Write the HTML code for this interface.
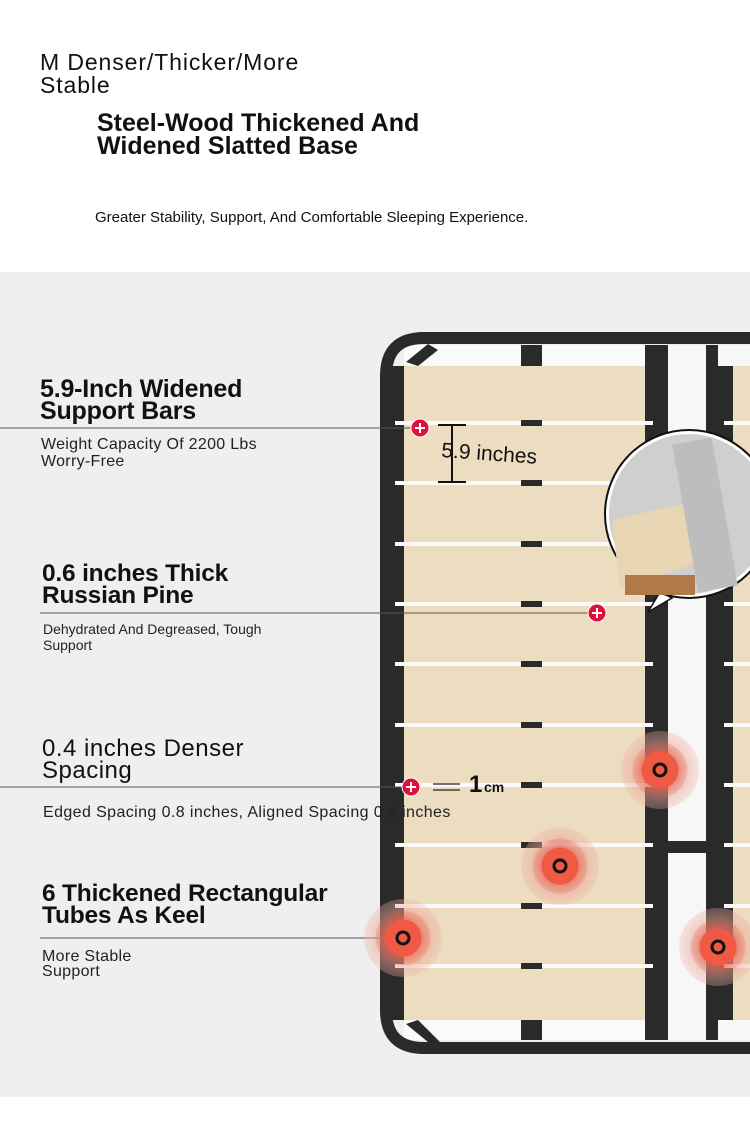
<!DOCTYPE html>
<html><head><meta charset="utf-8"><style>
*{margin:0;padding:0;box-sizing:border-box}
body{width:750px;height:1128px;position:relative;background:#fff;font-family:"Liberation Sans",sans-serif;color:#111;overflow:hidden}
.a{position:absolute;white-space:nowrap}
.h{font-weight:bold;font-size:24.5px;line-height:22px;letter-spacing:-0.2px}
.s{font-size:16px;line-height:17px;color:#222;letter-spacing:0.3px}
</style></head><body>
<div class="a" style="left:40px;top:51px;font-size:23px;line-height:23px;letter-spacing:0.9px">M Denser/Thicker/More<br>Stable</div>
<div class="a" style="left:97px;top:112px;font-size:25px;line-height:23px;font-weight:bold">Steel-Wood Thickened And<br>Widened Slatted Base</div>
<div class="a" style="left:95px;top:209px;font-size:15px">Greater Stability, Support, And Comfortable Sleeping Experience.</div>
<div style="position:absolute;left:0;top:272px;width:750px;height:825px;background:#efefef"></div>
<svg style="position:absolute;left:0;top:0" width="750" height="1128">
<defs><radialGradient id="t"><stop offset="0.3" stop-color="#f05a45"/><stop offset="0.47" stop-color="#f05a45"/><stop offset="0.48" stop-color="#e8705f" stop-opacity="0.8"/><stop offset="0.7" stop-color="#e88878" stop-opacity="0.6"/><stop offset="0.71" stop-color="#eda597" stop-opacity="0.5"/><stop offset="1" stop-color="#f0b0a5" stop-opacity="0.3"/></radialGradient></defs>
<rect x="404" y="345" width="241" height="21" fill="#fafafa"/>
<rect x="404" y="1020" width="241" height="20" fill="#fafafa"/>
<rect x="521" y="345" width="21" height="21" fill="#2a2a2a"/>
<rect x="521" y="1020" width="21" height="20" fill="#2a2a2a"/>
<rect x="404" y="366" width="241" height="654" fill="#ecdcc0"/>
<rect x="386" y="366" width="18" height="654" fill="#2a2a2a"/>
<path d="M760 338 H424 Q386 338 386 376 V1010 Q386 1048 424 1048 H760" fill="none" stroke="#2a2a2a" stroke-width="12"/>
<rect x="645" y="345" width="23" height="695" fill="#2a2a2a"/>
<rect x="668" y="345" width="38" height="695" fill="#f7f7f7"/>
<rect x="668" y="841" width="38" height="12" fill="#2a2a2a"/>
<rect x="706" y="345" width="12" height="695" fill="#2a2a2a"/>
<rect x="718" y="345" width="40" height="695" fill="#f7f7f7"/>
<rect x="733" y="366" width="20" height="654" fill="#ecdcc0"/>
<rect x="718" y="366" width="15" height="654" fill="#2a2a2a"/>
<path d="M406 362 L428 344 L438 350 L418 366Z" fill="#2a2a2a"/>
<path d="M406 1024 L428 1042 L440 1042 L418 1020Z" fill="#2a2a2a"/>
<g fill="#fafafa">
<rect x="395" y="421" width="258" height="4"/><rect x="395" y="481" width="258" height="4"/><rect x="395" y="542" width="258" height="4"/><rect x="395" y="602" width="258" height="4"/><rect x="395" y="662" width="258" height="4"/><rect x="395" y="723" width="258" height="4"/><rect x="395" y="783" width="258" height="4"/><rect x="395" y="843" width="258" height="4"/><rect x="395" y="904" width="258" height="4"/><rect x="395" y="964" width="258" height="4"/>
<rect x="724" y="421" width="30" height="4"/><rect x="724" y="481" width="30" height="4"/><rect x="724" y="542" width="30" height="4"/><rect x="724" y="602" width="30" height="4"/><rect x="724" y="662" width="30" height="4"/><rect x="724" y="723" width="30" height="4"/><rect x="724" y="783" width="30" height="4"/><rect x="724" y="843" width="30" height="4"/><rect x="724" y="904" width="30" height="4"/><rect x="724" y="964" width="30" height="4"/>
</g>
<g fill="#2a2a2a">
<rect x="521" y="420" width="21" height="6"/><rect x="521" y="480" width="21" height="6"/><rect x="521" y="541" width="21" height="6"/><rect x="521" y="601" width="21" height="6"/><rect x="521" y="661" width="21" height="6"/><rect x="521" y="722" width="21" height="6"/><rect x="521" y="782" width="21" height="6"/><rect x="521" y="842" width="21" height="6"/><rect x="521" y="903" width="21" height="6"/><rect x="521" y="963" width="21" height="6"/>
</g>
<g stroke="#111" stroke-width="2"><line x1="452" y1="425" x2="452" y2="482"/><line x1="438" y1="425" x2="466" y2="425"/><line x1="438" y1="482" x2="466" y2="482"/></g>
<text x="441" y="457" font-size="21" fill="#111" transform="rotate(4 441 457)">5.9 inches</text>
<path d="M648 612 L660 592 L672 598Z" fill="#fff" stroke="#111" stroke-width="1.5"/>
<circle cx="689" cy="514" r="84" fill="#fff" stroke="#111" stroke-width="2"/>
<circle cx="689" cy="514" r="80" fill="#cfcfcf"/>
<path d="M612 520 L700 500 L705 560 L620 590Z" fill="#e7d5b3"/>
<rect x="685" y="440" width="40" height="150" fill="#bdbdbd" transform="rotate(-10 705 515)"/>
<rect x="625" y="575" width="70" height="20" fill="#b07a48"/>
<line x1="0" y1="428" x2="412" y2="428" stroke="#555"/>
<line x1="40" y1="613" x2="590" y2="613" stroke="#555"/>
<line x1="0" y1="787" x2="404" y2="787" stroke="#555"/>
<line x1="40" y1="938" x2="395" y2="938" stroke="#555"/>
<g stroke="#222" stroke-width="1.2"><line x1="433" y1="784" x2="460" y2="784"/><line x1="433" y1="790" x2="460" y2="790"/></g>
<text x="469" y="792" font-size="24" font-weight="bold" fill="#111">1</text><text x="484" y="792" font-size="14" font-weight="bold" fill="#111">cm</text>
<g fill="url(#t)"><circle cx="660" cy="770" r="39"/><circle cx="560" cy="866" r="39"/><circle cx="403" cy="938" r="39"/><circle cx="718" cy="947" r="39"/></g>
<g fill="none" stroke="#111" stroke-width="3"><circle cx="660" cy="770" r="6"/><circle cx="560" cy="866" r="6"/><circle cx="403" cy="938" r="6"/><circle cx="718" cy="947" r="6"/></g>
<g fill="#e0103a" stroke="#fff" stroke-width="1"><circle cx="420" cy="428" r="9"/><circle cx="597" cy="613" r="9"/><circle cx="411" cy="787" r="9"/></g>
<g stroke="#fff" stroke-width="2"><path d="M415 428h10M420 423v10M592 613h10M597 608v10M406 787h10M411 782v10"/></g>
</svg>
<div class="a h" style="left:40px;top:378px;font-size:25px">5.9-Inch Widened<br>Support Bars</div>
<div class="a s" style="left:41px;top:436px">Weight Capacity Of 2200 Lbs<br>Worry-Free</div>
<div class="a h" style="left:42px;top:563px">0.6 inches Thick<br>Russian Pine</div>
<div class="a" style="left:43px;top:621px;font-size:14px;line-height:16px;color:#222">Dehydrated And Degreased, Tough<br>Support</div>
<div class="a h" style="left:42px;top:738px;font-weight:normal;font-size:24px;letter-spacing:0.5px">0.4 inches Denser<br>Spacing</div>
<div class="a s" style="left:43px;top:804px;letter-spacing:0.4px">Edged Spacing 0.8 inches, Aligned Spacing 0.4 inches</div>
<div class="a h" style="left:42px;top:883px">6 Thickened Rectangular<br>Tubes As Keel</div>
<div class="a s" style="left:42px;top:949px;line-height:15px">More Stable<br>Support</div>
</body></html>
